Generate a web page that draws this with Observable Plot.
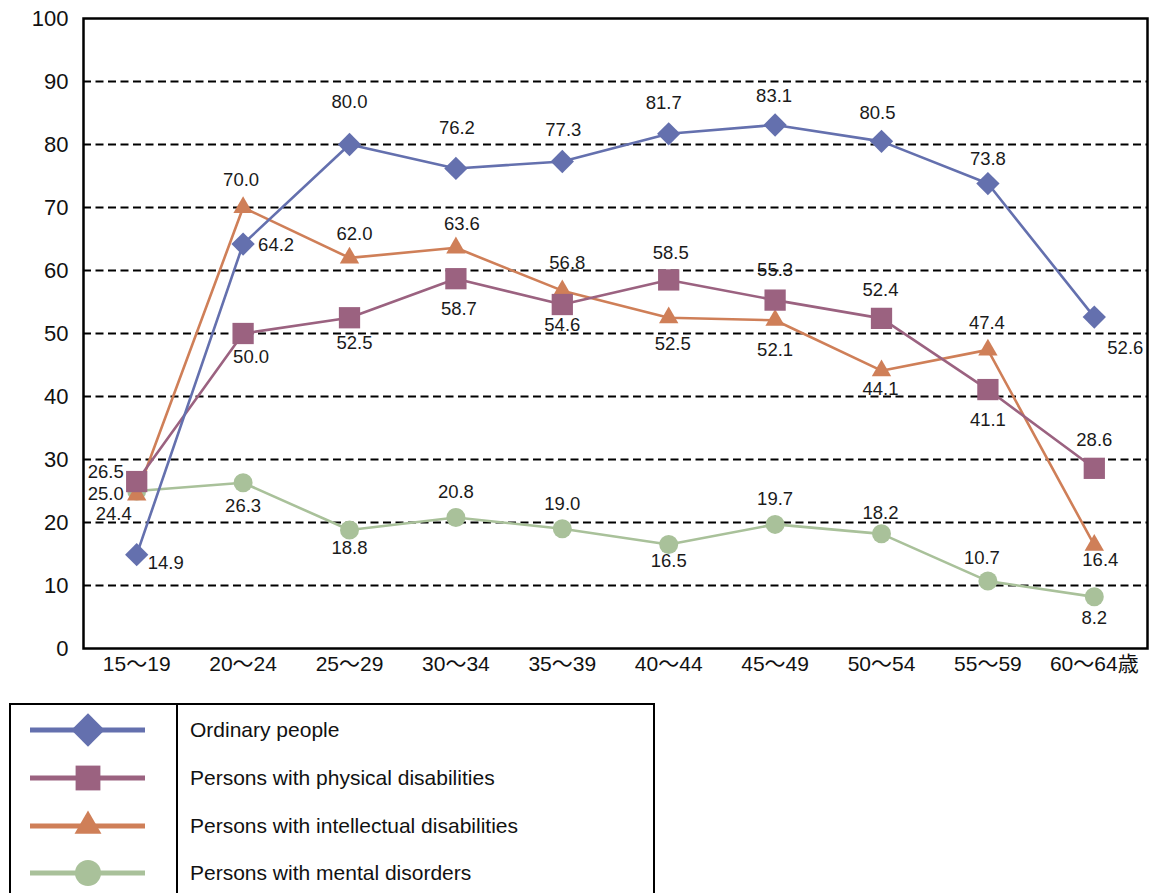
<!DOCTYPE html>
<html><head><meta charset="utf-8">
<script src="https://cdn.jsdelivr.net/npm/d3@7"></script>
<script src="https://cdn.jsdelivr.net/npm/@observablehq/plot@0.6"></script>
<style>
body{margin:0;background:#fff;font-family:"Liberation Sans","Noto Sans CJK JP",Arial,sans-serif;}
#chart{position:absolute;left:0;top:0;}
#legend{position:absolute;left:9px;top:703px;width:646px;height:210px;border:2px solid #000;box-sizing:border-box;}
#legend .divider{position:absolute;left:165px;top:0;bottom:0;border-left:2px solid #000;}
#legend .item{position:absolute;left:179px;font-size:21px;color:#111;line-height:22px;}
#legend svg{position:absolute;left:0;top:0;}
</style></head><body>
<div id="chart"></div>
<div id="legend"></div>
<script>
// ---- data ----
const ageGroups = ["15～19","20～24","25～29","30～34","35～39","40～44","45～49","50～54","55～59","60～64歳"];
const seriesNames = ["Ordinary people","Persons with physical disabilities","Persons with intellectual disabilities","Persons with mental disorders"];
const ordinary     = [14.9, 64.2, 80.0, 76.2, 77.3, 81.7, 83.1, 80.5, 73.8, 52.6];
const physical     = [26.5, 50.0, 52.5, 58.7, 54.6, 58.5, 55.3, 52.4, 41.1, 28.6];
const intellectual = [24.4, 70.0, 62.0, 63.6, 56.8, 52.5, 52.1, 44.1, 47.4, 16.4];
const mental       = [25.0, 26.3, 18.8, 20.8, 19.0, 16.5, 19.7, 18.2, 10.7, 8.2];
const yTicks = [0,10,20,30,40,50,60,70,80,90,100];

// ---- styling / label placement (separate from data) ----
const colors = ["#6470ae","#9b6280","#cf7f58","#a9c19a"];
const symbols = ["diamond2","square","triangle","circle"];
const symbolR = [10.5, 12, 7.2, 9.5];
const labelOffsets = [
  [[29,8],[33,1],[0,-42],[1,-40],[1,-31],[-5,-31],[-1,-29],[-4,-28],[0,-24],[31,31]],
  [[-31,-9],[8,24],[5,25],[3,30],[0,21],[2,-27],[0,-30],[-1,-28],[0,31],[0,-28]],
  [[-23,19],[-2,-27],[5,-24],[6,-24],[5,-28],[4,26],[0,30],[-1,18],[-1,-27],[6,15]],
  [[-31,3],[0,23],[0,18],[0,-25],[0,-25],[0,17],[0,-25],[-1,-21],[-6,-23],[0,21]]
];

const seriesValues = [ordinary, physical, intellectual, mental];
const rows = [];
seriesValues.forEach((vals, s) => vals.forEach((v, i) => rows.push({
  age: ageGroups[i], value: v, series: seriesNames[s], s, i
})));

const marks = [
  Plot.ruleY(yTicks.filter(t => t > 0 && t < 100), {stroke:"#000", strokeWidth:1.8, strokeDasharray:"8,4.5"}),
  Plot.frame({stroke:"#000", strokeWidth:2.5}),
  Plot.axisY({ticks: yTicks, tickSize:0, tickPadding:15, fontSize:22, fill:"#111", label: null}),
  Plot.axisX({tickSize:0, tickPadding:8, fontSize:21, fill:"#111", label: null}),
];
[3,2,1,0].forEach(s => {
  const d = rows.filter(r => r.s === s);
  marks.push(Plot.line(d, {x:"age", y:"value", stroke: colors[s], strokeWidth: 2.6}));
});
[3,2,1,0].forEach(s => {
  const d = rows.filter(r => r.s === s);
  marks.push(Plot.dot(d, {x:"age", y:"value", symbol: symbols[s], r: symbolR[s], fill: colors[s], stroke: "none"}));
});
rows.forEach(r => {
  const [dx, dy] = labelOffsets[r.s][r.i];
  marks.push(Plot.text([r], {x:"age", y:"value", text: d => d.value.toFixed(1), dx, dy, fontSize:18.5, fill:"#1a1a1a"}));
});

const chart = Plot.plot({
  width: 1150,
  height: 682,
  marginTop: 18,
  marginLeft: 83,
  marginRight: 3,
  marginBottom: 34,
  style: {fontFamily: '"Liberation Sans","Noto Sans CJK JP",Arial,sans-serif', background: "#fff"},
  x: {type: "point", domain: ageGroups, padding: 0.5, round: false, label: null},
  y: {domain: [0, 100], label: null},
  marks
});
document.getElementById("chart").appendChild(chart);

// ---- legend ----
const legend = d3.select("#legend");
legend.append("div").attr("class","divider");
const rowY = [25, 73, 121, 168];
const lsvg = legend.append("svg").attr("width", 165).attr("height", 206);
const legendSymR = [15, 14, 10, 13];
seriesNames.forEach((name, s) => {
  lsvg.append("line").attr("x1", 19).attr("x2", 134).attr("y1", rowY[s]).attr("y2", rowY[s])
    .attr("stroke", colors[s]).attr("stroke-width", 5);
  const sym = {diamond2: d3.symbolDiamond2, square: d3.symbolSquare, triangle: d3.symbolTriangle, circle: d3.symbolCircle}[symbols[s]];
  lsvg.append("path").attr("transform", `translate(77,${rowY[s]})`)
    .attr("d", d3.symbol(sym, Math.PI * legendSymR[s] * legendSymR[s])()).attr("fill", colors[s]);
  legend.append("div").attr("class","item").style("top", (rowY[s] - 11) + "px").text(name);
});
</script>
</body></html>
